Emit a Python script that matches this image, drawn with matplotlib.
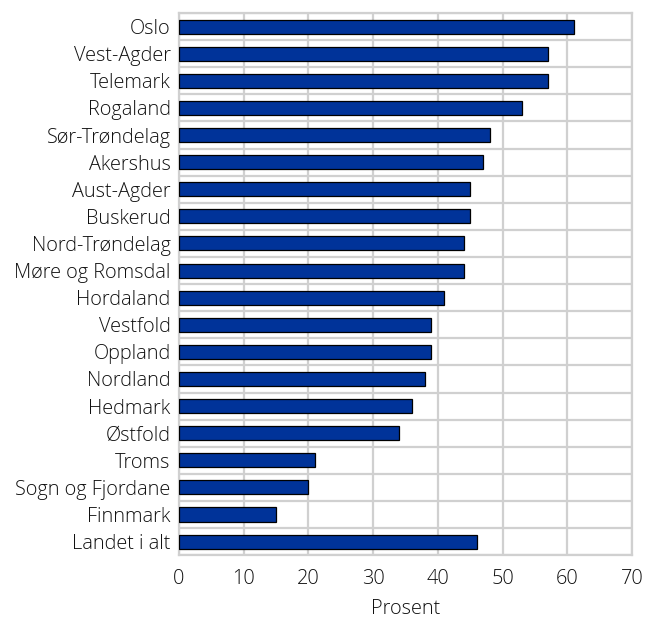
import numpy as np
import matplotlib.pyplot as plt

plt.rcParams['font.family'] = ['Open Sans', 'DejaVu Sans']

fylker = ['Oslo', 'Vest-Agder', 'Telemark', 'Rogaland', 'Sør-Trøndelag', 'Akershus',
          'Aust-Agder', 'Buskerud', 'Nord-Trøndelag', 'Møre og Romsdal', 'Hordaland',
          'Vestfold', 'Oppland', 'Nordland', 'Hedmark', 'Østfold', 'Troms',
          'Sogn og Fjordane', 'Finnmark', 'Landet i alt']
prosent = [61, 57, 57, 53, 48, 47, 45, 45, 44, 44, 41, 39, 39, 38, 36, 34, 21, 20, 15, 46]
xticks = [0, 10, 20, 30, 40, 50, 60, 70]

fig = plt.figure(figsize=(6.45, 6.21), dpi=100)
ax = fig.add_axes([0.2775, 0.106, 0.7025, 0.873])

y = np.arange(len(fylker))
ax.barh(y, prosent, height=0.52, color='#003399', edgecolor='black', linewidth=0.9, zorder=3)

fs = 14.3
txt = '#111111'
ax.set_ylim(len(fylker) - 0.5, -0.5)
ax.set_xlim(0, 70)
ax.set_yticks(y)
ax.set_yticklabels(fylker, fontsize=fs, color=txt, fontweight='light')
ax.set_xticks(xticks)
ax.set_xticklabels([str(t) for t in xticks], fontsize=fs, color=txt, fontweight='light')
ax.set_yticks(np.arange(len(fylker) + 1) - 0.5, minor=True)
ax.tick_params(axis='both', which='both', length=0)
ax.tick_params(axis='x', pad=10)
ax.tick_params(axis='y', pad=6)

ax.grid(axis='x', which='major', color='#d0d0d0', linewidth=1.6, zorder=0)
ax.grid(axis='y', which='minor', color='#d0d0d0', linewidth=1.6, zorder=0)
for s in ax.spines.values():
    s.set_color('#d0d0d0')
    s.set_linewidth(1.6)

ax.set_xlabel('Prosent', fontsize=fs, color=txt, fontweight='light', labelpad=7)

fig.savefig('out.png', dpi=100)
